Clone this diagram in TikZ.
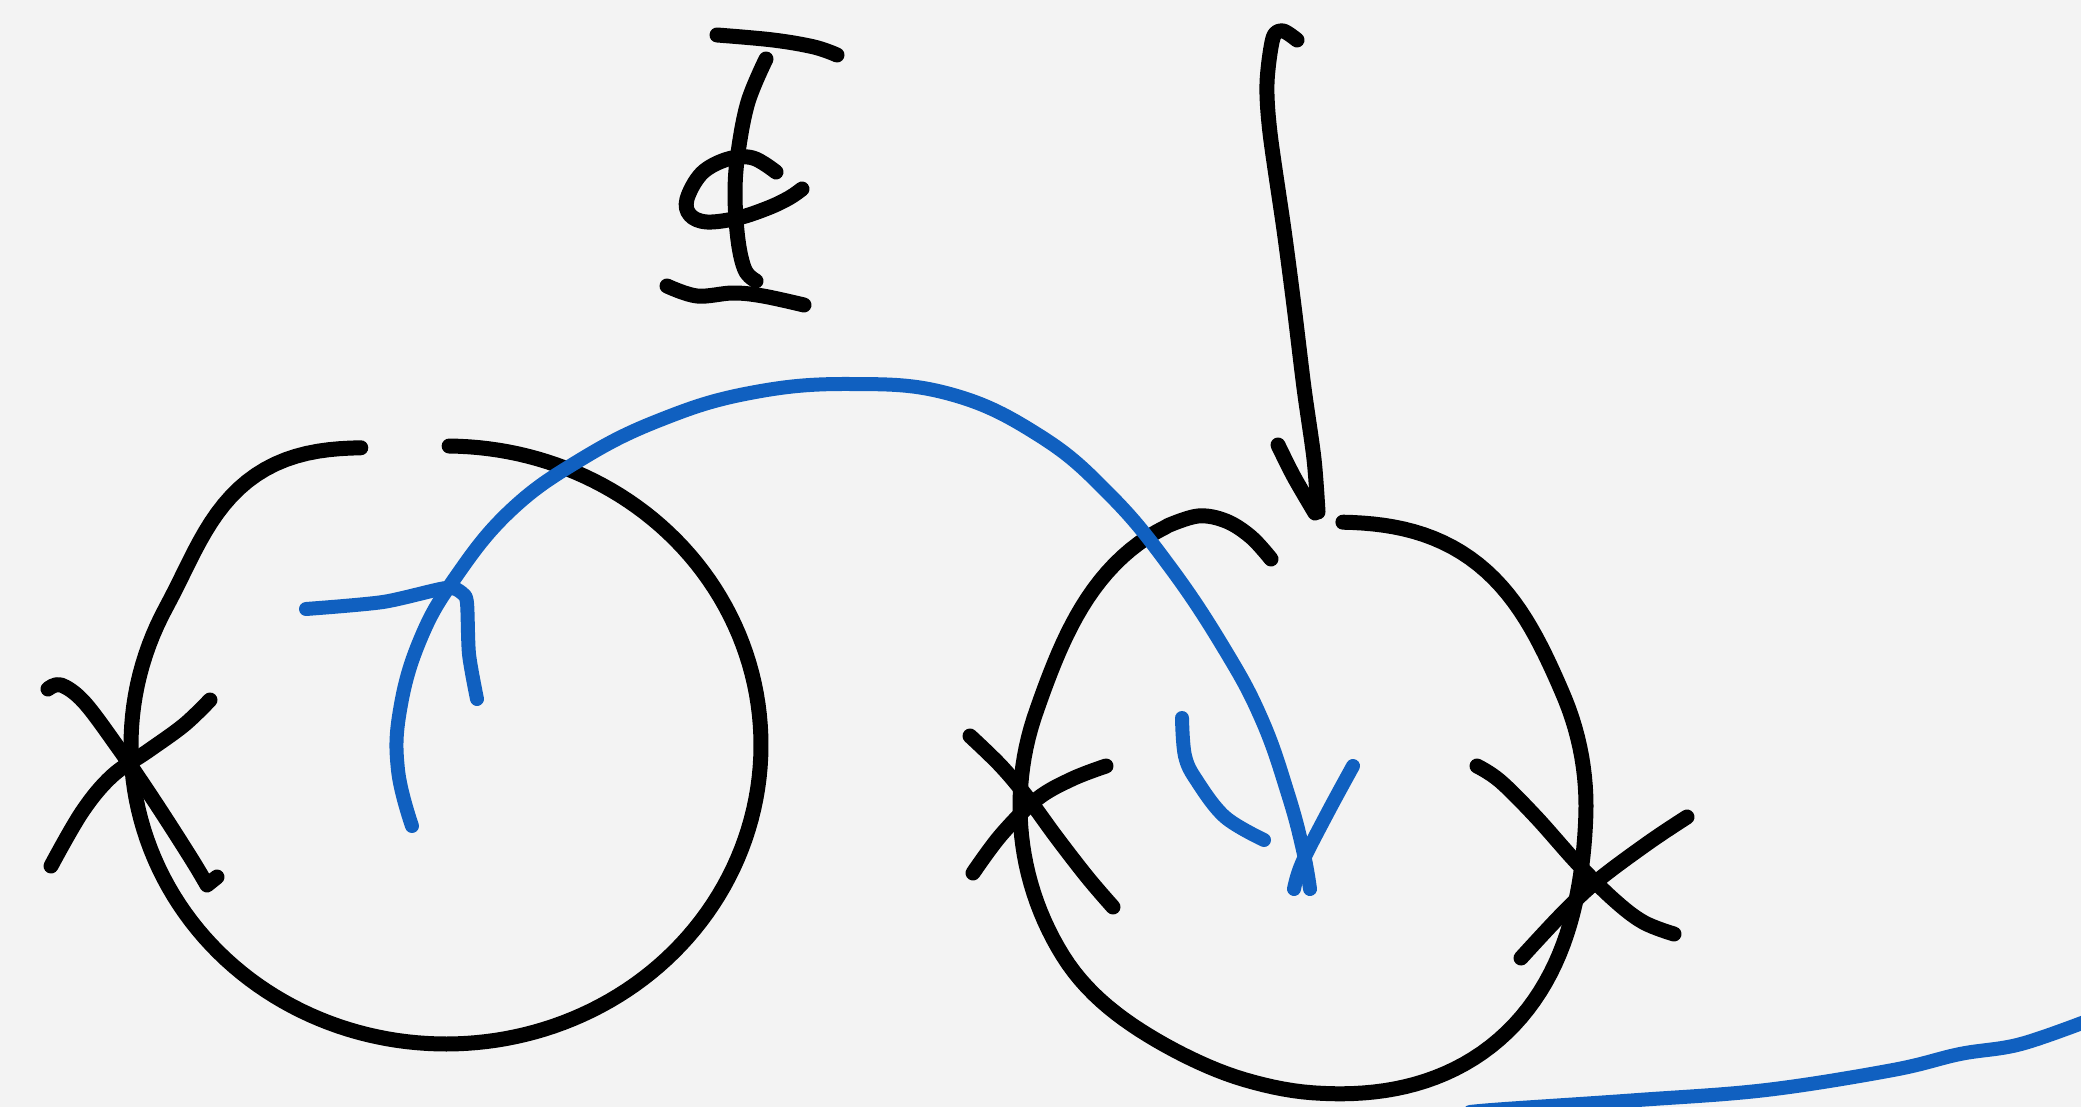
\documentclass[tikz,border=0pt]{standalone}
\usepackage{tikz}
\definecolor{bgc}{RGB}{243,243,243}
\definecolor{inkblue}{RGB}{16,96,192}
\tikzset{
  ink/.style={draw=black,line width=7.5pt,line cap=round,line join=round},
  blueink/.style={draw=inkblue,line width=7pt,line cap=round,line join=round}
}
\pgfmathdeclarefunction{rleft}{1}{\pgfmathparse{307+8*cos(2*#1)+26*(abs(#1-236)<30)*(cos(3*(#1-236)))^2}}
\pgfmathdeclarefunction{rright}{1}{\pgfmathparse{283+28*(abs(#1-244)<45)*(cos(2*(#1-244)))^2+22*(abs(#1-52)<50)*(cos(1.8*(#1-52)))^2-7*(abs(#1-118)<30)*(cos(3*(#1-118)))^2+16*(abs(#1+58)<35)*(cos(2.57*(#1+58)))^2}}
\begin{document}
\begin{tikzpicture}[x=0.5pt,y=-0.5pt]
\fill[bgc] (0,0) rectangle (2081,1107);
\useasboundingbox (0,0) rectangle (2081,1107);
\clip (0,0) rectangle (2081,1107);
% left circle
\draw[ink] plot[domain=254:-89.4,samples=181,variable=\t] ({446+rleft(\t)*cos(\t)},{745+rleft(\t)*sin(\t)});
% left X
\draw[ink] plot[smooth,tension=0.6] coordinates {(48,689) (61,685) (84,702) (117,746) (143,784) (168,822) (194,863) (207,885)} -- (217,877);
\draw[ink] plot[smooth,tension=0.6] coordinates {(210,700) (184,725) (148,751) (112,776) (82,812) (51,866)};
% I with loop
\draw[ink] plot[smooth,tension=0.6] coordinates {(717,35) (773,40) (814,47) (837,55)};
\draw[ink] plot[smooth,tension=0.6] coordinates {(766,59) (748,102) (738,153) (735,194) (738,240) (745,270) (756,281)};
\draw[ink] plot[smooth,tension=0.6] coordinates {(776,172) (753,158) (728,159) (702,173) (687,199) (690,215) (707,222) (738,218) (768,208) (789,198) (802,189)};
\draw[ink] plot[smooth,tension=0.6] coordinates {(667,286) (697,296) (733,293) (763,296) (804,305)};
% arrow top right
\draw[ink] plot[smooth,tension=0.5] coordinates {(1297,40) (1283,31) (1273,38) (1267,83) (1270,133) (1284,230) (1294,306) (1304,388) (1314,459) (1318,512)};
\draw[ink] plot[smooth,tension=0.5] coordinates {(1278,445) (1294,477) (1315,513)};
% right circle
\draw[ink] plot[smooth,tension=0.6] coordinates {(1271,559) (1251,537) (1226,521) (1198,516) (1167,526)} -- plot[domain=244:-82,samples=164,variable=\t] ({1303+rright(\t)*cos(\t)},{806+rright(\t)*sin(\t)});
% middle X
\draw[ink] plot[smooth,tension=0.6] coordinates {(970,736) (1001,766) (1027,797) (1057,838) (1088,878) (1113,907)};
\draw[ink] plot[smooth,tension=0.6] coordinates {(1106,766) (1072,779) (1037,799) (1001,835) (973,873)};
% right X
\draw[ink] plot[smooth,tension=0.6] coordinates {(1477,766) (1500,781) (1536,817) (1577,863) (1613,899) (1643,922) (1674,934)};
\draw[ink] plot[smooth,tension=0.6] coordinates {(1687,817) (1648,843) (1597,881) (1562,914) (1521,958)};
% blue big arc
\draw[blueink] plot[smooth,tension=0.7] coordinates {(412,826) (398,770) (400,710) (420,640) (455,578) (510,511) (580,460) (660,420) (750,393) (850,384) (950,394) (1040,436) (1110,495) (1170,567) (1225,650) (1262,720) (1288,794) (1303,850) (1310,889)};
% blue left arrowhead
\draw[blueink] plot[smooth,tension=0.45] coordinates {(306,609) (383,602) (446,588) (462,593) (467,603) (469,654) (477,699)};
% blue small curve and right arrowhead
\draw[blueink] plot[smooth,tension=0.6] coordinates {(1182,718) (1185,756) (1197,781) (1225,817) (1264,840)};
\draw[blueink] plot[smooth,tension=0.6] coordinates {(1353,766) (1328,812) (1302,863) (1294,889)};
% blue bottom line
\draw[blueink] plot[smooth,tension=0.6] coordinates {(1470,1112) (1505,1109) (1638,1100) (1766,1090) (1893,1070) (1960,1054) (2021,1044) (2095,1018)};
\end{tikzpicture}
\end{document}
